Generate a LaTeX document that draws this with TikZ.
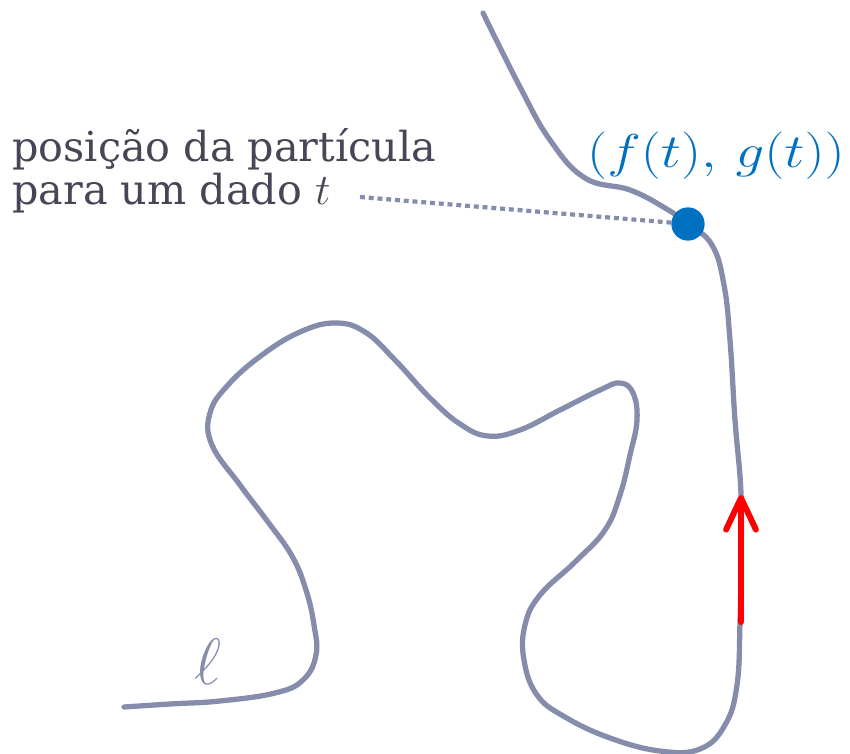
\documentclass[tikz,border=0pt]{standalone}
\usepackage{fontspec}
\usepackage{graphicx}
\setmainfont{DejaVu Serif}
\usepackage{tikz}
\usetikzlibrary{arrows.meta, positioning, calc}
\definecolor{curvegray}{RGB}{133,140,172}
\definecolor{textgray}{RGB}{70,70,86}
\definecolor{ptblue}{RGB}{0,112,192}
\definecolor{arrowred}{RGB}{255,0,0}

\begin{document}
\begin{tikzpicture}[
      x=0.02cm, y=-0.02cm,
      path/.style={draw=curvegray, line width=3pt, line cap=round, line join=round},
      lead/.style={draw=curvegray, line width=2.4pt, dash pattern=on 2.8pt off 2.2pt},
      point/.style={circle, fill=ptblue, minimum size=0.66cm, inner sep=0pt},
      label/.style={text=textgray, align=left, inner sep=0pt, font=\fontsize{23.5}{24.4}\selectfont},
      coordlabel/.style={text=ptblue, inner sep=0pt, font=\Huge},
      curvename/.style={text=curvegray, font=\Huge},
      velocity/.style={draw=arrowred, line width=3.4pt, line cap=round, line join=round,
        -{Straight Barb[length=18pt, width=17pt, line cap=round, line join=round]}}
    ]
    \useasboundingbox (0,0) rectangle (850,754);

    \draw[path] plot[smooth, tension=0.7] coordinates {
      (483,13) (520,87) (550,140) (585,178) (630,190) (665,208) (688,224)
      (712,245) (724,285) (730,340) (735,420) (741,493) (741,560) (740,622)
      (737,685) (725,725) (700,749) (660,751) (610,738) (565,717) (537,695)
      (524,660) (525,625) (540,595) (575,562) (605,530) (620,495) (630,455)
      (637,420) (633,393) (620,383) (600,390) (560,410) (520,430) (488,436)
      (460,424) (430,398) (395,360) (365,332) (335,323) (300,332) (262,355)
      (228,385) (210,413) (212,445) (240,485) (268,522) (292,556) (306,590)
      (314,625) (316,655) (303,680) (275,693) (220,701) (170,704) (124,707)};

    \node[label, anchor=west] (desc) at (12,171) {posição da partícula\\para um dado $t$};
    \coordinate (leadstart) at (360,197);
    \node[point] (pt) at (688,224) {};
    \draw[lead] (leadstart) -- (pt.center);
    \node[point] at (pt) {};
    \node[coordlabel, anchor=base] (ptname) at (716,167) {\scalebox{1.3}[1.085]{$(f(t),\,g(t))$}};
    \node[curvename] (ell) at (208,662) {\scalebox{1.5}{$\ell$}};

    \coordinate (vtail) at (741,622);
    \coordinate (vtip) at (741,495);
    \draw[velocity] (vtail) -- (vtip);
  \end{tikzpicture}
\end{document}
